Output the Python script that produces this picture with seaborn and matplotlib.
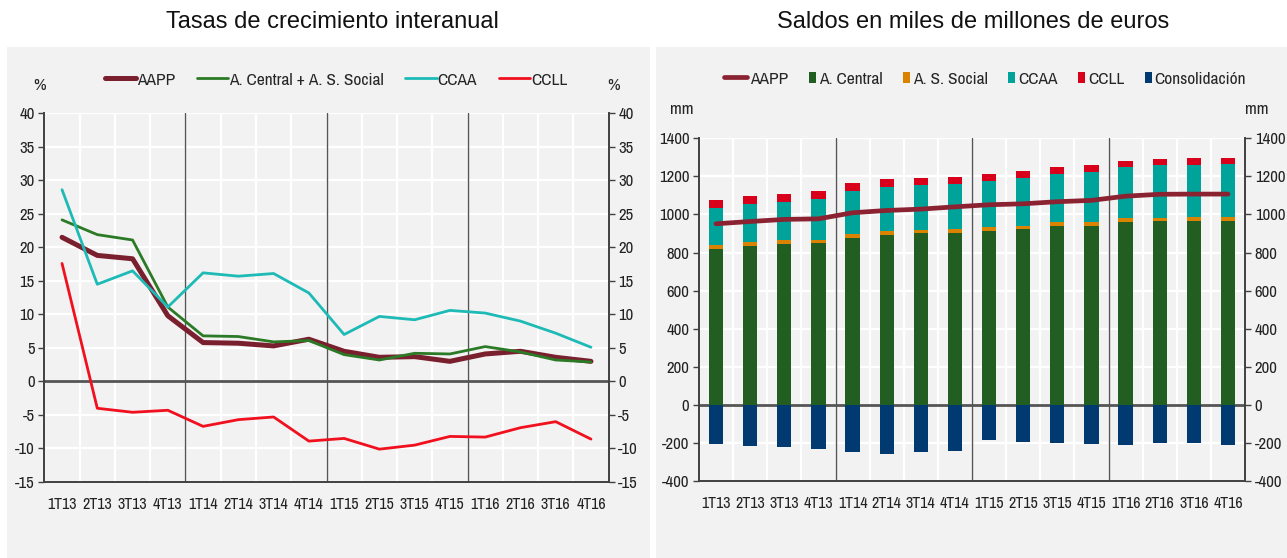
import numpy as np
import matplotlib
matplotlib.use('Agg')
import matplotlib.pyplot as plt
from matplotlib.lines import Line2D
from matplotlib.patches import Rectangle, Patch
from matplotlib.legend_handler import HandlerPatch
from matplotlib.ticker import MultipleLocator, FixedLocator
import seaborn as sns

sns.set_style('white')
NARROW = ['Archivo Narrow', 'Liberation Sans Narrow', 'DejaVu Sans']
plt.rcParams['font.family'] = NARROW
plt.rcParams['axes.unicode_minus'] = False

# --- datos ---
periodos = ['1T13', '2T13', '3T13', '4T13', '1T14', '2T14', '3T14', '4T14',
            '1T15', '2T15', '3T15', '4T15', '1T16', '2T16', '3T16', '4T16']

# tasas de crecimiento interanual (%)
tasa_aapp = [21.5, 18.8, 18.3, 9.8, 5.8, 5.7, 5.3, 6.3, 4.5, 3.6, 3.7, 3.0, 4.1, 4.5, 3.6, 3.0]
tasa_central_ss = [24.1, 21.9, 21.1, 11.1, 6.8, 6.7, 5.9, 6.1, 4.0, 3.2, 4.2, 4.1, 5.2, 4.4, 3.2, 2.9]
tasa_ccaa = [28.6, 14.5, 16.5, 11.1, 16.2, 15.7, 16.1, 13.2, 7.0, 9.7, 9.2, 10.6, 10.2, 9.0, 7.2, 5.1]
tasa_ccll = [17.6, -4.0, -4.6, -4.3, -6.7, -5.7, -5.3, -8.9, -8.5, -10.1, -9.5, -8.2, -8.3, -6.9, -6.0, -8.6]

# saldos en miles de millones de euros
saldo_central = [818, 833, 846, 851, 877, 893, 900, 904, 914, 923, 940, 940, 961, 967, 968, 968]
saldo_social = [19, 21, 21, 17, 19, 18, 18, 19, 18, 17, 18, 18, 20, 17, 18, 20]
saldo_ccaa = [195, 199, 201, 211, 227, 233, 236, 237, 242, 253, 254, 265, 266, 274, 274, 279]
saldo_ccll = [43, 43, 41, 42, 40, 40, 39, 36, 38, 37, 37, 35, 34, 35, 36, 31]
saldo_consol = [-205, -217, -223, -230, -247, -257, -247, -242, -183, -197, -203, -207, -209, -203, -203, -209]
saldo_aapp = [951, 963, 974, 977, 1009, 1021, 1028, 1040, 1051, 1056, 1067, 1074, 1096, 1106, 1107, 1107]

C = {'aapp': '#7A1F2E', 'aapp2': '#8B2232', 'verde': '#2B7A26', 'cian': '#1DBAB6',
     'rojo': '#F0101E', 'central': '#225E22', 'social': '#D98300', 'ccaa': '#00A39A',
     'ccll': '#D8001A', 'consol': '#003A70', 'panel': '#F2F2F2', 'eje': '#404040'}

W, H = 1287, 558
fig = plt.figure(figsize=(W / 100, H / 100), dpi=100)
fig.patch.set_facecolor('white')

# paneles grises de fondo
fig.patches.append(Rectangle((7 / W, 0), (650 - 7) / W, 1 - 47 / H, transform=fig.transFigure,
                             facecolor=C['panel'], edgecolor='none', zorder=-10))
fig.patches.append(Rectangle((656 / W, 0), (W - 656) / W, 1 - 47 / H, transform=fig.transFigure,
                             facecolor=C['panel'], edgecolor='none', zorder=-10))

TITULO = ['Liberation Sans', 'DejaVu Sans']
fig.text(332 / W, 1 - 22 / H, 'Tasas de crecimiento interanual', ha='center', va='center',
         fontsize=17, family=TITULO, color='#111111')
fig.text(973 / W, 1 - 22 / H, 'Saldos en miles de millones de euros', ha='center', va='center',
         fontsize=17, family=TITULO, color='#111111')

x = np.arange(len(periodos))


def estilo_ejes(ax, ymin, ymax, paso):
    ax.set_facecolor(C['panel'])
    ax.set_xlim(-0.5, len(periodos) - 0.5)
    ax.set_ylim(ymin, ymax)
    ax.yaxis.set_major_locator(MultipleLocator(paso))
    ax.xaxis.set_major_locator(FixedLocator(x))
    ax.set_xticklabels(periodos)
    ax.xaxis.set_minor_locator(FixedLocator(np.arange(-0.5, len(periodos), 1.0)))
    ax.tick_params(axis='x', which='major', length=0, pad=11, labelsize=11.5, colors='#222222')
    ax.tick_params(axis='x', which='minor', length=5, width=1, direction='out', color=C['eje'])
    ax.tick_params(axis='y', length=4, width=1, direction='out', color=C['eje'],
                   labelsize=12, labelcolor='#222222', pad=3)
    ax.grid(axis='y', which='major', color='white', lw=1.6)
    ax.grid(axis='x', which='minor', color='white', lw=1.6)
    ax.set_axisbelow(True)
    for lado in ['top', 'right']:
        ax.spines[lado].set_visible(False)
    for lado in ['left', 'bottom']:
        ax.spines[lado].set_color(C['eje'])
        ax.spines[lado].set_linewidth(1.4)
    for xv in [3.5, 7.5, 11.5]:
        ax.axvline(xv, color='#555555', lw=1.0, zorder=1)
    ax.axhline(0, color='#555555', lw=2.0, zorder=2)
    ax.set_xlabel('')
    ax.set_ylabel('')
    # eje derecho espejo
    ax2 = ax.twinx()
    ax2.set_ylim(ymin, ymax)
    ax2.yaxis.set_major_locator(MultipleLocator(paso))
    ax2.tick_params(axis='y', length=4, width=1, direction='out', color=C['eje'],
                    labelsize=12, labelcolor='#222222', pad=3)
    for lado in ['top', 'left', 'bottom']:
        ax2.spines[lado].set_visible(False)
    ax2.spines['right'].set_color(C['eje'])
    ax2.spines['right'].set_linewidth(1.4)
    ax2.grid(False)
    return ax2


# --- grafico izquierdo: tasas ---
ax1 = fig.add_axes([44.4 / W, 1 - 482 / H, (608.6 - 44.4) / W, (482 - 113.3) / H])
sns.lineplot(x=x, y=tasa_aapp, color=C['aapp'], lw=3.6, ax=ax1, zorder=3)
sns.lineplot(x=x, y=tasa_central_ss, color=C['verde'], lw=2.0, ax=ax1, zorder=4)
sns.lineplot(x=x, y=tasa_ccaa, color=C['cian'], lw=2.0, ax=ax1, zorder=4)
sns.lineplot(x=x, y=tasa_ccll, color=C['rojo'], lw=2.0, ax=ax1, zorder=4)
estilo_ejes(ax1, -15, 40, 5)

h1 = [Line2D([], [], color=C['aapp'], lw=3.6), Line2D([], [], color=C['verde'], lw=2.0),
      Line2D([], [], color=C['cian'], lw=2.0), Line2D([], [], color=C['rojo'], lw=2.0)]
fig.legend(h1, ['AAPP', 'A. Central + A. S. Social', 'CCAA', 'CCLL'], loc='center',
           bbox_to_anchor=(336 / W, 1 - 80 / H), ncol=4, frameon=False, fontsize=12.5,
           handlelength=1.8, handletextpad=0.05, columnspacing=1.25)
fig.text(40 / W, 1 - 86 / H, '%', ha='center', va='center', fontsize=12.5)
fig.text(614 / W, 1 - 86 / H, '%', ha='center', va='center', fontsize=12.5)

# --- grafico derecho: saldos ---
ax3 = fig.add_axes([699 / W, 1 - 481 / H, (1245 - 699) / W, (481 - 138.3) / H])
cum_social = np.add(saldo_central, saldo_social)
cum_ccaa = cum_social + np.array(saldo_ccaa)
cum_ccll = cum_ccaa + np.array(saldo_ccll)
ancho = 0.42
for valores, color in [(cum_ccll, C['ccll']), (cum_ccaa, C['ccaa']),
                       (cum_social, C['social']), (saldo_central, C['central']),
                       (saldo_consol, C['consol'])]:
    sns.barplot(x=periodos, y=valores, color=color, saturation=1, width=ancho,
                edgecolor='none', ax=ax3, zorder=3)
sns.lineplot(x=x, y=saldo_aapp, color=C['aapp2'], lw=3.4, ax=ax3, zorder=5)
estilo_ejes(ax3, -400, 1400, 200)


def cuadro(legend, orig_handle, xdescent, ydescent, width, height, fontsize):
    # rectangulo estrecho pegado al texto
    w, h = 5.2, 8.6
    return Rectangle((width - xdescent - w, -ydescent + (height - h) / 2), w, h)


h2 = [Line2D([], [], color=C['aapp2'], lw=3.4)] + [
    Patch(facecolor=c, edgecolor='none')
    for c in [C['central'], C['social'], C['ccaa'], C['ccll'], C['consol']]]
fig.legend(h2, ['AAPP', 'A. Central', 'A. S. Social', 'CCAA', 'CCLL', 'Consolidación'],
           loc='center', bbox_to_anchor=(985 / W, 1 - 79 / H), ncol=6, frameon=False,
           fontsize=12.5, handlelength=1.35, handletextpad=0.15, columnspacing=0.25,
           handler_map={Patch: HandlerPatch(patch_func=cuadro)})
fig.text(682 / W, 1 - 110 / H, 'mm', ha='center', va='center', fontsize=12.5)
fig.text(1257 / W, 1 - 110 / H, 'mm', ha='center', va='center', fontsize=12.5)

fig.savefig('out.png', dpi=100)
plt.close(fig)
